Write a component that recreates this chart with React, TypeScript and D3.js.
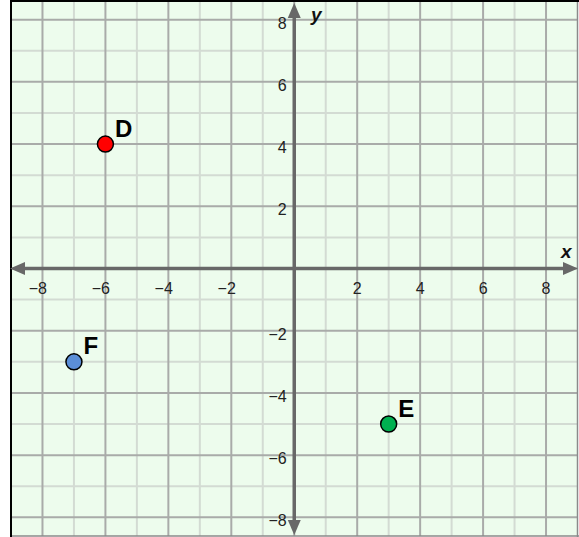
import * as d3 from "d3";
import React, { useRef, useEffect } from "react";

const W = 579;
const H = 537;

const xTicks = [-8, -6, -4, -2, 2, 4, 6, 8];
const yTicks = [-8, -6, -4, -2, 2, 4, 6, 8];
const pointNames = ["D", "E", "F"];
const pointX = [-6, 3, -7];
const pointY = [4, -5, -3];
const pointColors = ["#ff0000", "#00b050", "#5b8ed8"];

function App() {
  const ref = useRef<SVGSVGElement>(null);

  useEffect(() => {
    const svg = d3.select(ref.current);
    svg.selectAll("*").remove();

    const x = d3.scaleLinear().domain([-9, 9]).range([11, 577.5]);
    const y = d3.scaleLinear().domain([-8.6, 8.6]).range([536, 1]);
    const x0 = x(0);
    const y0 = y(0);

    // background
    svg
      .append("rect")
      .attr("x", x(-9))
      .attr("y", y(8.6))
      .attr("width", x(9) - x(-9))
      .attr("height", y(-8.6) - y(8.6))
      .attr("fill", "#edfced");

    // grid
    const grid = svg.append("g");
    const gx = d3.range(-8, 9);
    const gy = d3.range(-8, 9);
    // minor first, then major on top
    [false, true].forEach((major) => {
      grid
        .selectAll(null)
        .data(gx.filter((v) => (v % 2 === 0) === major))
        .join("line")
        .attr("x1", (d) => x(d))
        .attr("x2", (d) => x(d))
        .attr("y1", y(8.6))
        .attr("y2", y(-8.6))
        .attr("stroke", major ? "#a9aba9" : "#d3dbd3")
        .attr("stroke-width", 2);
      grid
        .selectAll(null)
        .data(gy.filter((v) => (v % 2 === 0) === major))
        .join("line")
        .attr("y1", (d) => y(d))
        .attr("y2", (d) => y(d))
        .attr("x1", x(-9))
        .attr("x2", x(9))
        .attr("stroke", major ? "#a9aba9" : "#d3dbd3")
        .attr("stroke-width", 2);
    });

    // frame
    svg.append("line").attr("x1", x(9)).attr("x2", x(9)).attr("y1", 0).attr("y2", H)
      .attr("stroke", "#8a8a8a").attr("stroke-width", 1.5);
    svg.append("line").attr("x1", 10).attr("x2", W).attr("y1", y(-8.6)).attr("y2", y(-8.6))
      .attr("stroke", "#8a8a8a").attr("stroke-width", 1.5);
    svg.append("line").attr("x1", x(-9)).attr("x2", x(-9)).attr("y1", 0).attr("y2", H)
      .attr("stroke", "#000").attr("stroke-width", 2);
    svg.append("line").attr("x1", 10).attr("x2", W).attr("y1", 1).attr("y2", 1)
      .attr("stroke", "#000").attr("stroke-width", 2);

    // axes
    const axisColor = "#686868";
    const ax = svg.append("g");
    ax.append("line").attr("x1", 22).attr("x2", 566).attr("y1", y0).attr("y2", y0)
      .attr("stroke", axisColor).attr("stroke-width", 3.5);
    ax.append("line").attr("x1", x0).attr("x2", x0).attr("y1", 16).attr("y2", 522)
      .attr("stroke", axisColor).attr("stroke-width", 3.5);
    const arrows = [
      [[10, y0], [25, y0 - 6.5], [25, y0 + 6.5]],
      [[578, y0], [563, y0 - 6.5], [563, y0 + 6.5]],
      [[x0, 3], [x0 - 6.5, 18], [x0 + 6.5, 18]],
      [[x0, 535], [x0 - 6.5, 520], [x0 + 6.5, 520]],
    ];
    ax.selectAll("polygon")
      .data(arrows)
      .join("polygon")
      .attr("points", (d) => d.map((p) => p.join(",")).join(" "))
      .attr("fill", axisColor);

    // tick labels
    const font = "Arial, 'Liberation Sans', sans-serif";
    const fmt = (d: number) => (d < 0 ? "\u2212" + Math.abs(d) : String(d));
    svg
      .append("g")
      .selectAll("text")
      .data(xTicks)
      .join("text")
      .attr("x", (d) => x(d) + 4.5)
      .attr("y", y0 + 25)
      .attr("text-anchor", "end")
      .attr("font-family", font)
      .attr("font-size", 16)
      .attr("fill", "#222")
      .text(fmt);
    svg
      .append("g")
      .selectAll("text")
      .data(yTicks)
      .join("text")
      .attr("x", x0 - 7.5)
      .attr("y", (d) => y(d) + 9)
      .attr("text-anchor", "end")
      .attr("font-family", font)
      .attr("font-size", 16)
      .attr("fill", "#222")
      .text(fmt);

    // axis names
    svg.append("text").attr("x", 561).attr("y", 258).text("x")
      .attr("font-family", font).attr("font-size", 19).attr("font-weight", "bold")
      .attr("font-style", "italic").attr("fill", "#111");
    svg.append("text").attr("x", 311).attr("y", 21).text("y")
      .attr("font-family", font).attr("font-size", 19).attr("font-weight", "bold")
      .attr("font-style", "italic").attr("fill", "#111");

    // points
    const pts = pointNames.map((n, i) => ({ n, x: pointX[i], y: pointY[i], c: pointColors[i] }));
    const pg = svg.append("g");
    pg.selectAll("circle")
      .data(pts)
      .join("circle")
      .attr("cx", (d) => x(d.x))
      .attr("cy", (d) => y(d.y))
      .attr("r", 8)
      .attr("fill", (d) => d.c)
      .attr("stroke", "#000")
      .attr("stroke-width", 1.5);
    pg.selectAll("text")
      .data(pts)
      .join("text")
      .attr("x", (d) => x(d.x) + 9.5)
      .attr("y", (d) => y(d.y) - 7.5)
      .attr("font-family", font)
      .attr("font-size", 24)
      .attr("font-weight", "bold")
      .attr("fill", "#000")
      .text((d) => d.n);
  }, []);

  return (
    <svg
      ref={ref}
      width={W}
      height={H}
      style={{ position: "absolute", left: 0, top: 0, background: "#fff" }}
    ></svg>
  );
}

export default App;
